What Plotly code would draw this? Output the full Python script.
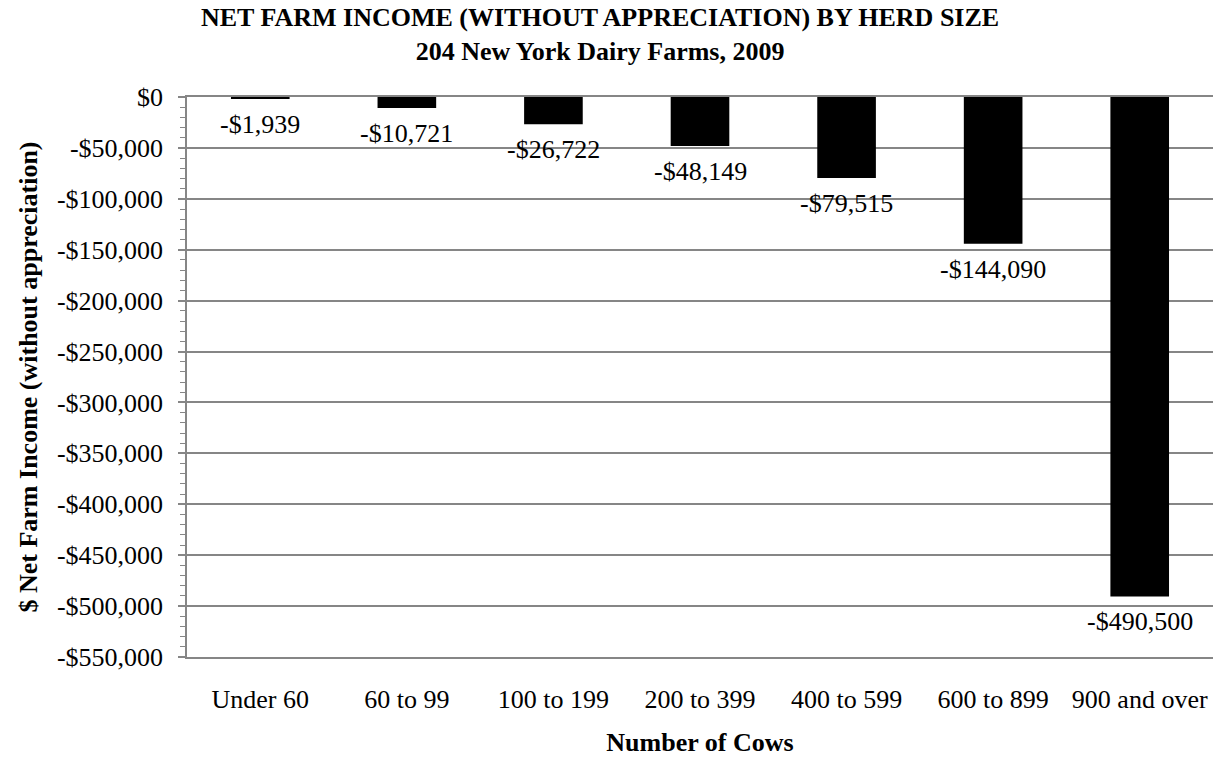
import plotly.graph_objects as go

categories = ["Under 60", "60 to 99", "100 to 199", "200 to 399", "400 to 599", "600 to 899", "900 and over"]
values = [-1939, -10721, -26722, -48149, -79515, -144090, -490500]
labels = ["-$1,939", "-$10,721", "-$26,722", "-$48,149", "-$79,515", "-$144,090", "-$490,500"]
tickvals = list(range(0, -550001, -50000))
ticktext = ["$0"] + ["-${:,}".format(-v) for v in tickvals[1:]]

font = "Liberation Serif, Times New Roman, serif"
FS = 26
GRAY = "#868686"

fig = go.Figure(go.Bar(
    x=categories, y=values,
    marker=dict(color="black", line=dict(width=0)),
    width=0.4,
))

for c, v, t in zip(categories, values, labels):
    fig.add_annotation(x=c, y=v, text=t, showarrow=False, yanchor="top", yshift=-9,
                       font=dict(family=font, size=FS, color="black"))

# chart title (two lines), centred on the page
fig.add_annotation(
    xref="paper", yref="paper", x=0.4025, y=1.112, xanchor="center", yanchor="middle",
    text="<b>NET FARM INCOME (WITHOUT APPRECIATION) BY HERD SIZE<br>204 New York Dairy Farms, 2009</b>",
    showarrow=False, font=dict(family=font, size=FS, color="black"),
)

fig.update_layout(
    width=1221, height=757,
    margin=dict(l=187, r=8, t=97, b=100),
    paper_bgcolor="white", plot_bgcolor="white",
    font=dict(family=font, color="black"),
    showlegend=False,
)

fig.update_xaxes(
    automargin=False,
    showgrid=False, showline=True, linecolor=GRAY, linewidth=1.5, mirror=True, ticks="",
    tickfont=dict(family=font, size=FS, color="black"),
    ticklabelstandoff=18,
    title=dict(text="<b>Number of Cows</b>", font=dict(family=font, size=FS, color="black"), standoff=30),
)

fig.update_yaxes(
    automargin=False,
    range=[-550000, 0], tickvals=tickvals, ticktext=ticktext,
    showgrid=True, gridcolor=GRAY, gridwidth=1.5,
    showline=True, linecolor=GRAY, linewidth=1.5,
    ticks="outside", ticklen=7, tickcolor=GRAY, tickwidth=1.5,
    minor=dict(dtick=10000, ticks="outside", ticklen=5, tickcolor=GRAY, tickwidth=1, showgrid=False),
    zeroline=False,
    ticklabelstandoff=10,
    tickfont=dict(family=font, size=FS, color="black"),
    title=dict(text="<b>$ Net Farm Income (without appreciation)</b>", font=dict(family=font, size=FS, color="black"), standoff=12),
)

fig.write_html("out.html")
